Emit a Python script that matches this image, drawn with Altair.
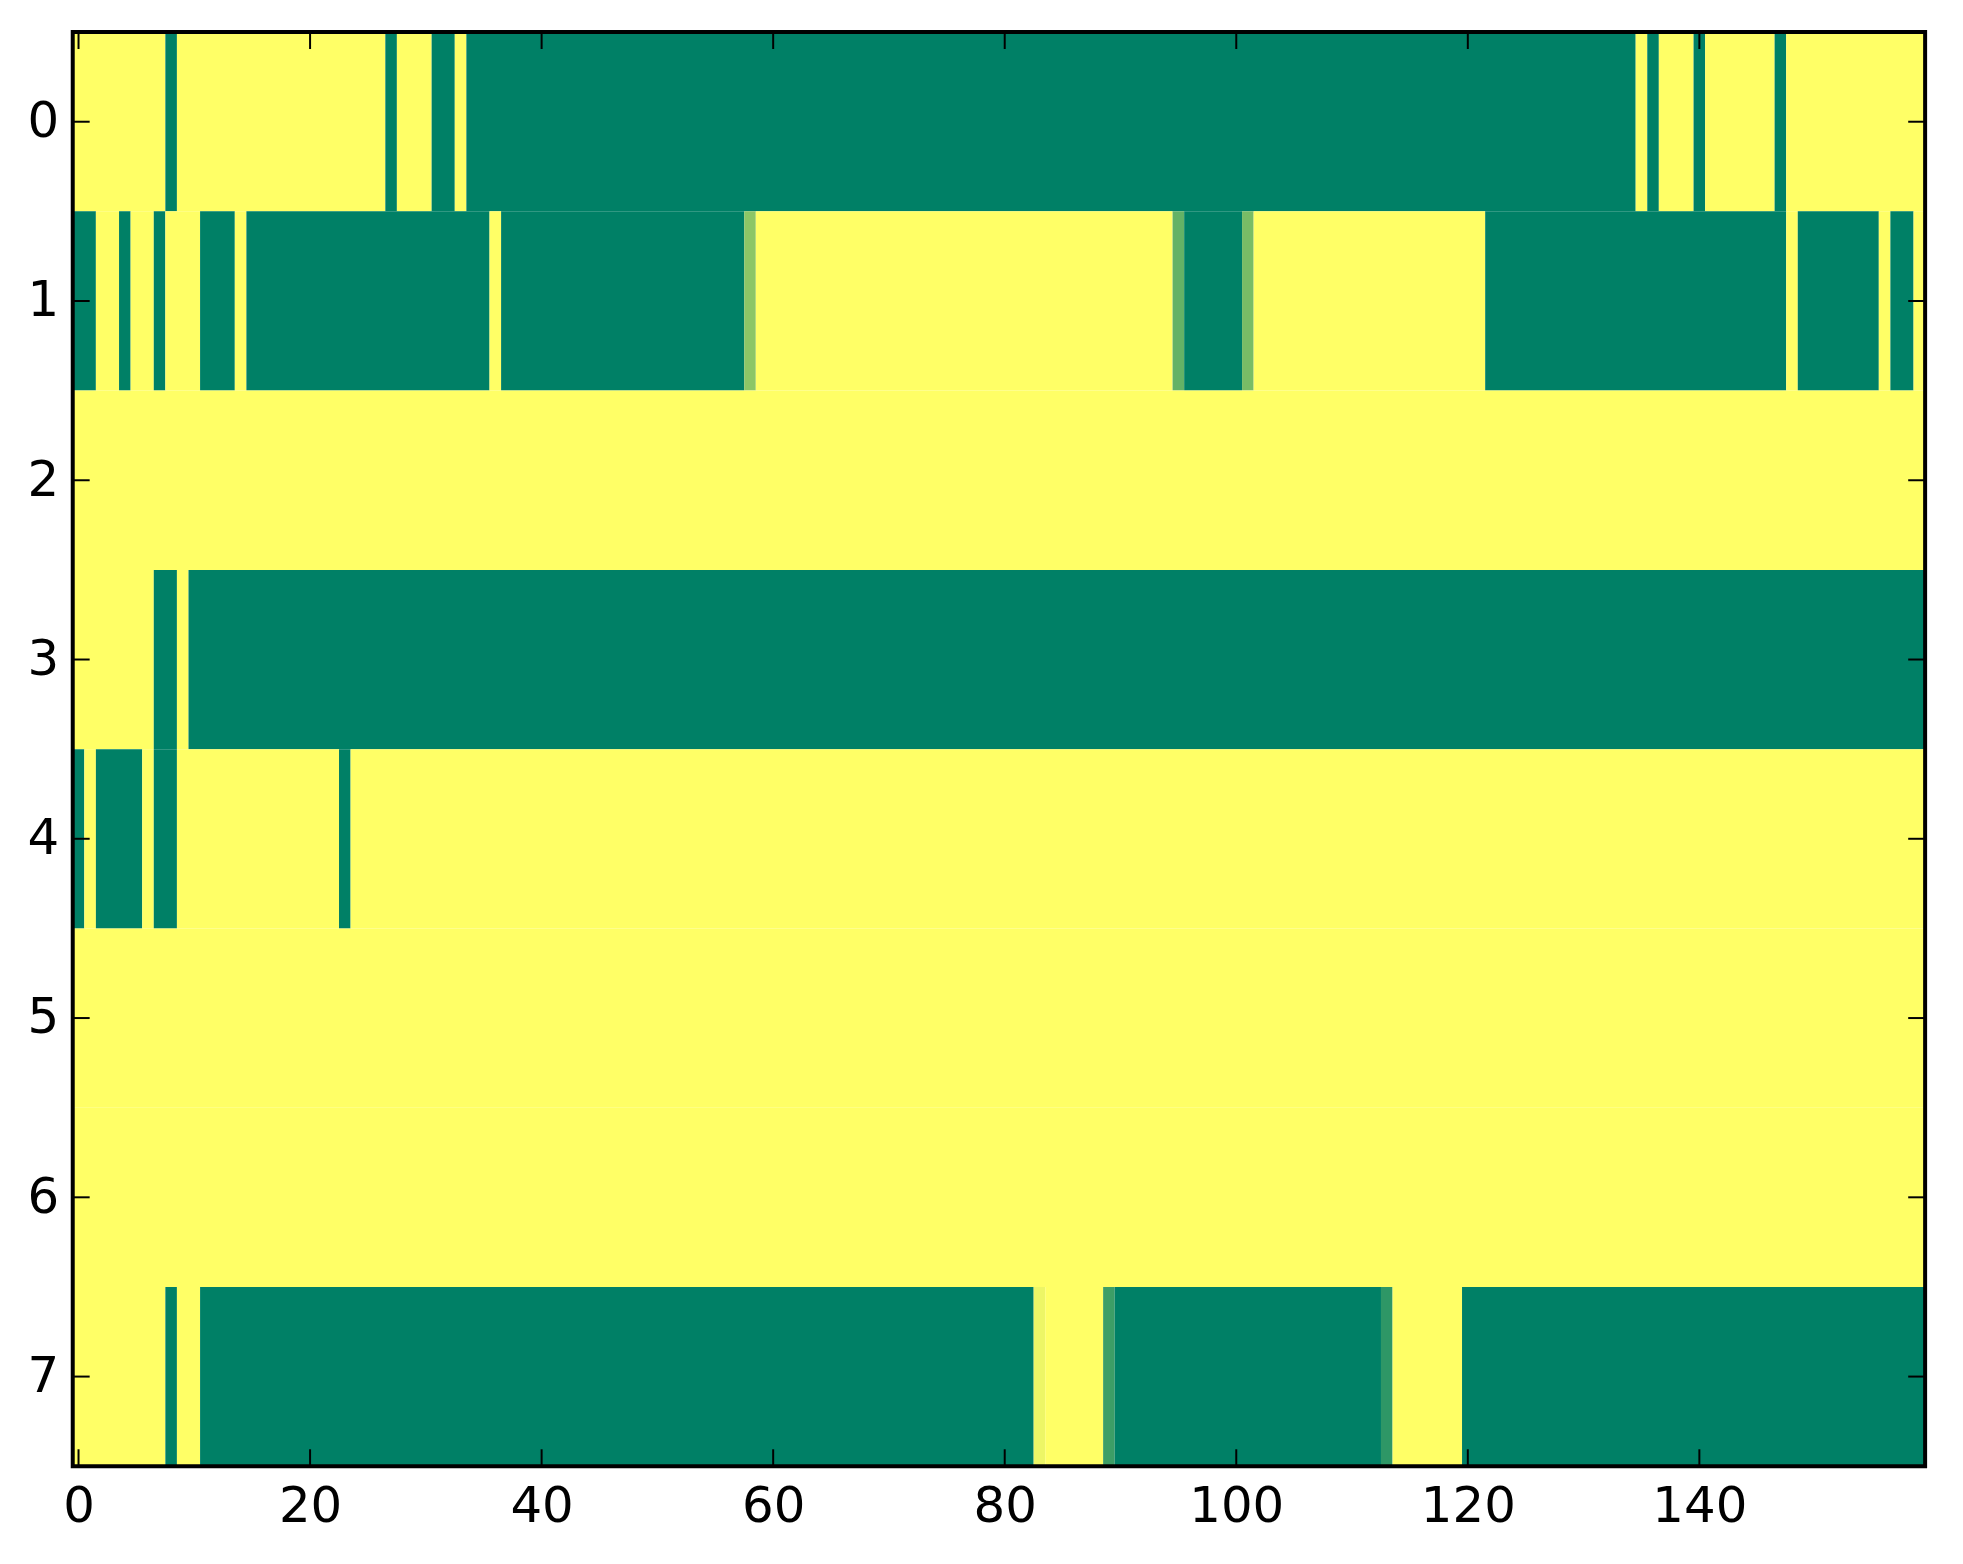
import altair as alt
import pandas as pd

# tick labels
x_ticks = [0, 20, 40, 60, 80, 100, 120, 140]
y_ticks = [0, 1, 2, 3, 4, 5, 6, 7]
n_cols = 160

# cell values per row, read as runs: (first column, last column, value)
row0 = [(0, 7, 1), (8, 8, 0), (9, 26, 1), (27, 27, 0), (28, 30, 1), (31, 32, 0),
        (33, 33, 1), (34, 134, 0), (135, 135, 1), (136, 136, 0), (137, 139, 1),
        (140, 140, 0), (141, 146, 1), (147, 147, 0), (148, 159, 1)]
row1 = [(0, 1, 0), (2, 3, 1), (4, 4, 0), (5, 6, 1), (7, 7, 0), (8, 10, 1),
        (11, 13, 0), (14, 14, 1), (15, 35, 0), (36, 36, 1), (37, 57, 0),
        (58, 58, 0.55), (59, 94, 1), (95, 95, 0.39), (96, 100, 0), (101, 101, 0.47),
        (102, 121, 1), (122, 147, 0), (148, 148, 1), (149, 155, 0), (156, 156, 1),
        (157, 158, 0), (159, 159, 1)]
row2 = [(0, 159, 1)]
row3 = [(0, 6, 1), (7, 8, 0), (9, 9, 1), (10, 159, 0)]
row4 = [(0, 0, 0), (1, 1, 1), (2, 5, 0), (6, 6, 1), (7, 8, 0), (9, 22, 1),
        (23, 23, 0), (24, 159, 1)]
row5 = [(0, 159, 1)]
row6 = [(0, 159, 1)]
row7 = [(0, 7, 1), (8, 8, 0), (9, 10, 1), (11, 82, 0), (83, 83, 0.93), (84, 88, 1),
        (89, 89, 0.24), (90, 112, 0), (113, 113, 0.18), (114, 119, 1), (120, 159, 0)]

rows = [row0, row1, row2, row3, row4, row5, row6, row7]

recs = []
for r, runs in enumerate(rows):
    for a, b, v in runs:
        recs.append({"x": a - 0.5, "x2": b + 0.5, "y": r - 0.5, "y2": r + 0.5, "v": v})
df = pd.DataFrame(recs)

W, H = 1860, 1440
TL = 17

xscale = alt.Scale(domain=[-0.5, n_cols - 0.5], nice=False, zero=False)
yscale = alt.Scale(domain=[-0.5, len(rows) - 0.5], reverse=True, nice=False, zero=False)
cscale = alt.Scale(domain=[0, 1], range=["#008066", "#ffff66"], interpolate="rgb")

axis_common = dict(ticks=False, domain=False, grid=False,
                   labelFontSize=50, labelFont="DejaVu Sans", labelColor="black",
                   labelFlush=False, labelOverlap=False, title=None)
xaxis = alt.Axis(values=x_ticks, labelPadding=16, **axis_common)
yaxis = alt.Axis(values=y_ticks, labelPadding=14, **axis_common)

rects = alt.Chart(df).mark_rect(strokeWidth=0).encode(
    x=alt.X("x:Q", scale=xscale, axis=xaxis),
    x2="x2:Q",
    y=alt.Y("y:Q", scale=yscale, axis=yaxis),
    y2="y2:Q",
    color=alt.Color("v:Q", scale=cscale, legend=None),
)

xt = pd.DataFrame({"t": x_ticks})
yt = pd.DataFrame({"t": y_ticks})

tick_bottom = alt.Chart(xt).mark_rule(color="black", strokeWidth=2).encode(
    x=alt.X("t:Q", scale=xscale, axis=xaxis), y=alt.value(H), y2=alt.value(H - TL))
tick_top = alt.Chart(xt).mark_rule(color="black", strokeWidth=2).encode(
    x=alt.X("t:Q", scale=xscale, axis=xaxis), y=alt.value(0), y2=alt.value(TL))
tick_left = alt.Chart(yt).mark_rule(color="black", strokeWidth=2).encode(
    y=alt.Y("t:Q", scale=yscale, axis=yaxis), x=alt.value(0), x2=alt.value(TL))
tick_right = alt.Chart(yt).mark_rule(color="black", strokeWidth=2).encode(
    y=alt.Y("t:Q", scale=yscale, axis=yaxis), x=alt.value(W - TL), x2=alt.value(W))

frame = alt.Chart(pd.DataFrame({"a": [0]})).mark_rect(
    fill="white", fillOpacity=0, stroke="black", strokeWidth=4).encode(
    x=alt.value(0), x2=alt.value(W), y=alt.value(0), y2=alt.value(H))

chart = alt.layer(rects, tick_bottom, tick_top, tick_left, tick_right, frame).properties(
    width=W, height=H,
    autosize=alt.AutoSizeParams(type="none"),
    padding={"left": 65, "top": 21, "right": 30, "bottom": 95},
).configure_view(stroke=None)

chart.save("out.html", embed_options={"renderer": "svg", "actions": False})
